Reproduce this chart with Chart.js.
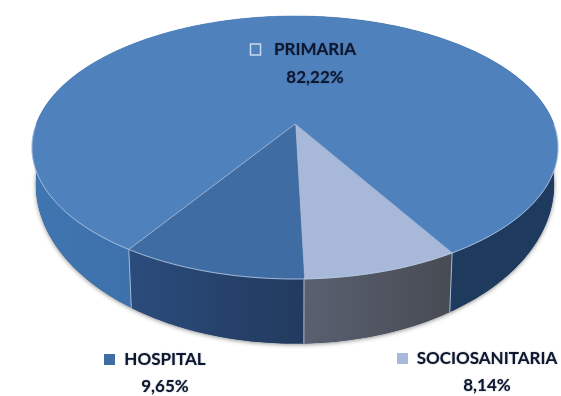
<!DOCTYPE html>
<html>
<head>
<meta charset="utf-8">
<style>
  html, body { margin: 0; padding: 0; background: #fff; }
  canvas { display: block; }
</style>
<script src="https://cdn.jsdelivr.net/npm/chart.js@4"></script>
</head>
<body>
<canvas id="graph" width="561" height="396"></canvas>
<script>
// data, clockwise from the primaria slice
var categories = ["PRIMARIA", "SOCIOSANITARIA", "HOSPITAL"];
var values = [82.22, 8.14, 9.65];
var topColors = ["#4f81bd", "#a8b8d8", "#3f6ca3"];

// look of the 3d disc
var disc = { cx: 295, cy: 124, rx: 258.8, ry: 127.3, p: 0.1787, baseY: 156, baseSx: 0.985, baseSy: 1.21 };
var labelPos = [
  { x: 315, y: 50, box: 250, y2: 78 },
  { x: 487, y: 359, box: 397, y2: 386 },
  { x: 165, y: 360, box: 104, y2: 387 }
];

function rimPoint(a, base) {
  var u = Math.cos(a), v = Math.sin(a), w = 1 - disc.p * v;
  if (base) return [disc.cx + disc.rx * disc.baseSx * u / w, disc.baseY + disc.ry * disc.baseSy * v / w];
  return [disc.cx + disc.rx * u / w, disc.cy + disc.ry * v / w];
}

function traceRim(ctx, a0, a1, base, reverse) {
  var n = Math.max(2, Math.ceil(Math.abs(a1 - a0) * 60));
  for (var i = 0; i <= n; i++) {
    var t = reverse ? 1 - i / n : i / n;
    var p = rimPoint(a0 + (a1 - a0) * t, base);
    ctx.lineTo(p[0], p[1]);
  }
}

function wall(ctx, a0, a1, c0, c1) {
  var p0 = rimPoint(a0, false);
  var xs = [];
  for (var i = 0; i <= 40; i++) xs.push(rimPoint(a0 + (a1 - a0) * i / 40, false)[0]);
  var g = ctx.createLinearGradient(Math.min.apply(null, xs), 0, Math.max.apply(null, xs), 0);
  g.addColorStop(0, c0);
  g.addColorStop(1, c1);
  ctx.beginPath();
  ctx.moveTo(p0[0], p0[1]);
  traceRim(ctx, a0, a1, false, false);
  traceRim(ctx, a0, a1, true, true);
  ctx.closePath();
  ctx.fillStyle = g;
  ctx.fill();
}

function seam(ctx, a) {
  var t = rimPoint(a, false), b = rimPoint(a, true);
  ctx.beginPath();
  ctx.moveTo(t[0], t[1]);
  ctx.lineTo(b[0], b[1]);
  ctx.strokeStyle = "#a9bcd6";
  ctx.lineWidth = 1;
  ctx.stroke();
}

var disc3d = {
  id: "disc3d",
  beforeDatasetsDraw: function (chart) {
    var ctx = chart.ctx;
    var arcs = chart.getDatasetMeta(0).data;
    // canvas angles start at the right, chart.js hands them back like that
    var pri = arcs[0], soc = arcs[1], hos = arcs[2];
    var back = pri.startAngle + (Math.PI * 1.5 - (pri.startAngle % (Math.PI * 2)));

    // soft shadow under the disc
    ctx.save();
    ctx.shadowColor = "rgba(60,60,60,0.6)";
    ctx.shadowBlur = 4;
    ctx.shadowOffsetY = 1;
    ctx.beginPath();
    traceRim(ctx, 0, Math.PI * 2, true, false);
    ctx.closePath();
    ctx.fillStyle = "#2a4a72";
    ctx.fill();
    ctx.restore();

    wall(ctx, pri.startAngle, back, "#3f75b0", "#3a6ba5");
    wall(ctx, back, pri.endAngle, "#1f3a5c", "#1e3a5e");
    wall(ctx, hos.startAngle, hos.endAngle, "#2b4c7c", "#223a5e");
    wall(ctx, soc.startAngle, soc.endAngle, "#596070", "#484b53");
    seam(ctx, soc.startAngle);
    seam(ctx, hos.startAngle);
    seam(ctx, hos.endAngle);

    // top face
    arcs.forEach(function (arc) {
      ctx.beginPath();
      ctx.moveTo(disc.cx, disc.cy);
      traceRim(ctx, arc.startAngle, arc.endAngle, false, false);
      ctx.closePath();
      ctx.fillStyle = arc.options.backgroundColor;
      ctx.fill();
      ctx.strokeStyle = arc.options.backgroundColor;
      ctx.lineWidth = 0.5;
      ctx.stroke();
    });

    // light lines on the top face
    ctx.strokeStyle = "#9fb6d6";
    ctx.lineWidth = 1;
    [pri.startAngle, pri.endAngle].forEach(function (a) {
      var p = rimPoint(a, false);
      ctx.beginPath();
      ctx.moveTo(disc.cx, disc.cy);
      ctx.lineTo(p[0], p[1]);
      ctx.stroke();
    });
    ctx.beginPath();
    traceRim(ctx, 0, Math.PI, false, false);
    ctx.strokeStyle = "rgba(190,208,232,0.8)";
    ctx.stroke();

    // the disc above replaces the flat arcs
    return false;
  },
  afterDraw: function (chart) {
    var ctx = chart.ctx;
    ctx.save();
    ctx.font = "bold 17px Lato";
    ctx.textAlign = "center";
    ctx.textBaseline = "middle";
    categories.forEach(function (name, i) {
      var pos = labelPos[i];
      ctx.fillStyle = "#0d1830";
      ctx.shadowColor = "rgba(13,24,48,0.45)";
      ctx.shadowBlur = 1.5;
      ctx.fillText(name, pos.x, pos.y);
      ctx.fillText(values[i].toFixed(2).replace(".", ",") + "%", pos.x, pos.y2);
      ctx.shadowBlur = 0;
      if (i === 0) {
        ctx.strokeStyle = "#c8daf0";
        ctx.lineWidth = 1.5;
        ctx.strokeRect(pos.box + 0.5, pos.y - 6, 10, 11);
      } else {
        ctx.fillStyle = topColors[i];
        ctx.fillRect(pos.box, pos.y - 6, 11, 11);
      }
    });
    ctx.restore();
  }
};

new Chart("graph", {
  type: "pie",
  data: {
    labels: categories,
    datasets: [{ data: values, backgroundColor: topColors, borderWidth: 0 }]
  },
  options: {
    responsive: false,
    animation: false,
    rotation: 213.1,
    plugins: { legend: { display: false }, tooltip: { enabled: false } }
  },
  plugins: [disc3d]
});
</script>
</body>
</html>
